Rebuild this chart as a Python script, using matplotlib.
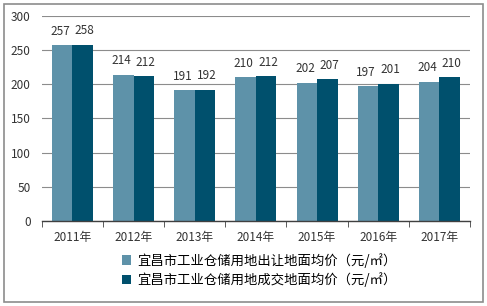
import numpy as np
import matplotlib
matplotlib.use("Agg")
import matplotlib.pyplot as plt
from matplotlib.patches import Rectangle

plt.rcParams['font.family'] = ['Noto Sans CJK SC', 'DejaVu Sans']

# =====================================
# Data
# =====================================

years = ["2011年", "2012年", "2013年", "2014年", "2015年", "2016年", "2017年"]
transfer_price = [257, 214, 191, 210, 202, 197, 204]
deal_price = [258, 212, 192, 212, 207, 201, 210]
series_names = [
    "宜昌市工业仓储用地出让地面均价（元/㎡）",
    "宜昌市工业仓储用地成交地面均价（元/㎡）",
]
y_ticks = [0, 50, 100, 150, 200, 250, 300]

light = "#5e92a9"
dark = "#00506d"

# =====================================
# Figure
# =====================================

fig = plt.figure(figsize=(4.87, 3.06), dpi=100)
ax = fig.add_axes([0.086, 0.278, 0.879, 0.670])

x = np.arange(len(years))
w = 0.335

b1 = ax.bar(x - w / 2, transfer_price, w, color=light, label=series_names[0])
b2 = ax.bar(x + w / 2, deal_price, w, color=dark, label=series_names[1])

for bars, dx in ((b1, -0.03), (b2, 0.03)):
    for rect in bars:
        ax.text(rect.get_x() + rect.get_width() / 2 + dx, rect.get_height() + 11,
                str(int(rect.get_height())), ha="center", va="bottom",
                fontsize=8.5, color="#333333")

ax.set_ylim(0, 300)
ax.set_xlim(-0.5, len(years) - 0.5)
ax.set_yticks(y_ticks)
ax.set_xticks(x)
ax.set_xticklabels(years)
ax.set_xticks(np.arange(-0.5, len(years), 1), minor=True)
ax.yaxis.grid(True, color="#8c8c8c", linewidth=0.8)
ax.set_axisbelow(True)

for s in ["top", "right", "left"]:
    ax.spines[s].set_visible(False)
ax.spines["bottom"].set_color("#404040")
ax.spines["bottom"].set_linewidth(1.0)

ax.tick_params(axis="y", length=0, labelsize=8.5, colors="#333333", pad=8)
ax.tick_params(axis="x", which="major", length=0, labelsize=8.5,
               colors="#333333", pad=7)
ax.tick_params(axis="x", which="minor", length=4, color="#404040")

leg = fig.legend(handles=[b1, b2], loc="upper left",
                 bbox_to_anchor=(0.237, 0.195), frameon=False,
                 fontsize=9.6, handlelength=0.7, handleheight=0.7,
                 handletextpad=0.4, labelspacing=0.35, borderpad=0)

fig.patches.append(Rectangle((0.008, 0.012), 0.984, 0.976,
                             transform=fig.transFigure, fill=False,
                             edgecolor="#8c8c8c", linewidth=1.2))

fig.savefig("out.png", dpi=100)
